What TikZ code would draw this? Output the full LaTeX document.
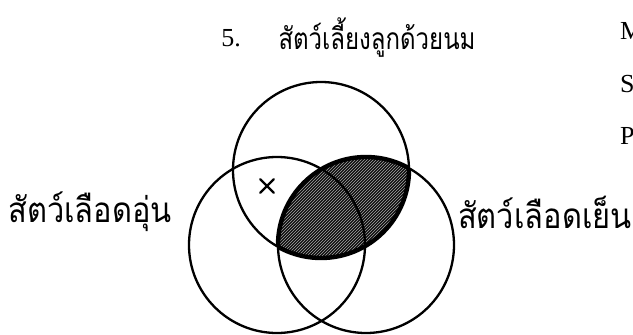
\documentclass[tikz,border=0pt]{standalone}
\usepackage{fontspec}
\setmainfont{Liberation Serif}
\newfontfamily\thaifont[Script=Thai]{Loma}
\usetikzlibrary{positioning, patterns}

\newcommand{\thtext}[1]{\scalebox{0.8}[1]{\thaifont\fontsize{30}{32}\selectfont #1}}
\newcommand{\thside}[1]{\scalebox{0.88}[1]{\thaifont\fontsize{35}{36}\selectfont #1}}

\tikzset{
    thlabel/.style={inner sep=0pt},
    enlabel/.style={font=\fontsize{26}{28}\selectfont, inner sep=0pt},
    ring/.style={line width=2.3pt},
    rim/.style={line width=4.4pt}
}

\begin{document}
\begin{tikzpicture}[x=1pt, y=-1pt]
    \useasboundingbox (0,0) rectangle (633,335);
    \coordinate (mam) at (321,170);
    \coordinate (warm) at (277,245);
    \coordinate (cold) at (366,245);

    % shaded part: mammals and cold blooded
    \begin{scope}
        \clip (mam) circle (88);
        \fill[black!95] (cold) circle (88);
        \fill[pattern=north east lines, pattern color=black!35] (cold) circle (88);
        \draw[rim] (cold) circle (88);
    \end{scope}
    \begin{scope}
        \clip (cold) circle (88);
        \draw[rim] (mam) circle (88);
    \end{scope}

    \draw[ring] (mam) circle (88);
    \draw[ring] (warm) circle (88);
    \draw[ring] (cold) circle (88);

    \node [minimum size=13pt, inner sep=0pt] (mark) at (267,186) {};
    \draw [line width=2.4pt, line cap=round] (mark.north west) -- (mark.south east);
    \draw [line width=2.4pt, line cap=round] (mark.south west) -- (mark.north east);

    \node [enlabel] (num) at (231,38) {5.};
    \node [thlabel] (mamtext) at (377,38) {\thtext{สัตว์เลี้ยงลูกด้วยนม}};
    \node [thlabel] (warmtext) at (90,212) {\thside{สัตว์เลือดอุ่น}};
    \node [thlabel] (coldtext) at (545,212) {\thside{สัตว์เลือดเย็น}};

    \node [enlabel, anchor=west] (m) at (620,31) {M};
    \node [enlabel, anchor=west] (s) at (620,84) {S};
    \node [enlabel, anchor=west] (p) at (620,136) {P};
\end{tikzpicture}
\end{document}
